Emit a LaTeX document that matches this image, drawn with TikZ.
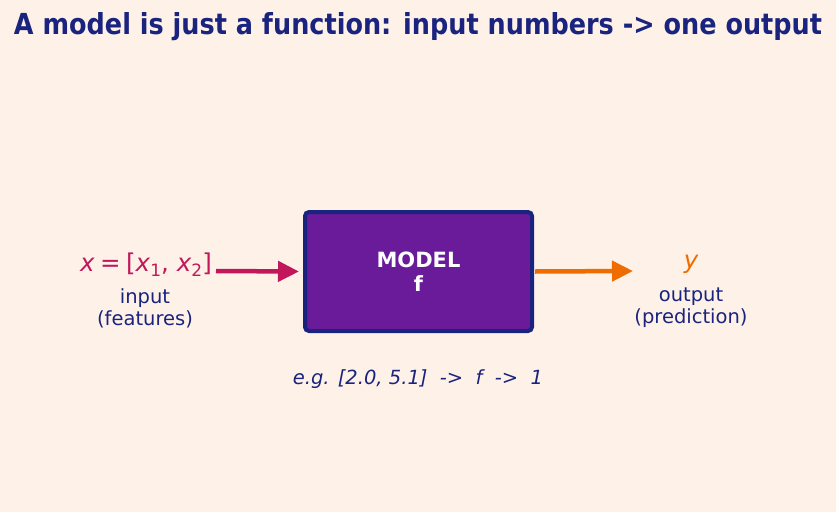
\documentclass[tikz,border=0pt]{standalone}
\usepackage{fontspec}
\setmainfont{DejaVu Sans}
\usetikzlibrary{arrows.meta}
\definecolor{bg}{HTML}{FEF2E8}
\definecolor{navy}{HTML}{1A237E}
\definecolor{purp}{HTML}{6A1B9A}
\definecolor{crim}{HTML}{C2185B}
\definecolor{orng}{HTML}{EF6C00}
\newcommand{\sbx}[1]{\raisebox{-0.22em}{\fontsize{17}{17}\selectfont #1}}
\begin{document}
\begin{tikzpicture}[x=1pt,y=-1pt,
  modelbox/.style={draw=navy, fill=purp, line width=4pt, rounded corners=4pt,
    minimum width=227pt, minimum height=119pt, inner sep=0pt, align=center,
    text=white, font=\bfseries\fontsize{21}{24}\selectfont},
  lbl/.style={align=center, text=navy, font=\fontsize{19.5}{22}\selectfont, inner sep=0pt},
  flow/.style={line width=4.5pt, -{Triangle[length=21pt,width=20pt]}}]
\fill[bg] (0,0) rectangle (836,512);
\useasboundingbox (0,0) rectangle (836,512);
\node[text=navy, inner sep=0pt, anchor=base] (title) at (418,34)
  {\resizebox{808pt}{22pt}{\fontsize{24}{28}\selectfont\bfseries A model is just a function: input numbers -> one output}};
\node[modelbox] (model) at (418.5,271.5) {MODEL\\f};
\node[text=crim, inner sep=0pt, font=\fontsize{24.5}{28}\selectfont] (xin) at (146,264.5)
  {\textit{x}\hspace{0.22em}=\hspace{0.22em}[\textit{x}\sbx{1}, \textit{x}\sbx{2}]};
\node[lbl] (inlab) at (145,308) {input\\(features)};
\node[text=orng, inner sep=0pt, font=\fontsize{24.5}{28}\selectfont\itshape] (yout) at (691,264.5) {y};
\node[lbl] (outlab) at (691,308) {output\\(prediction)};
\node[text=navy, inner sep=0pt, font=\fontsize{19.5}{22}\selectfont\itshape] (ex) at (418,379)
  {e.g. [2.0, 5.1]\ \ ->\ \ f\ \ ->\ \ 1};
\coordinate (a1s) at (216,271);
\coordinate (a2e) at (633,271);
\draw[flow, crim] (a1s) -- ([xshift=-4pt]model.west);
\draw[flow, orng] ([xshift=1pt]model.east) -- (a2e);
\end{tikzpicture}
\end{document}
